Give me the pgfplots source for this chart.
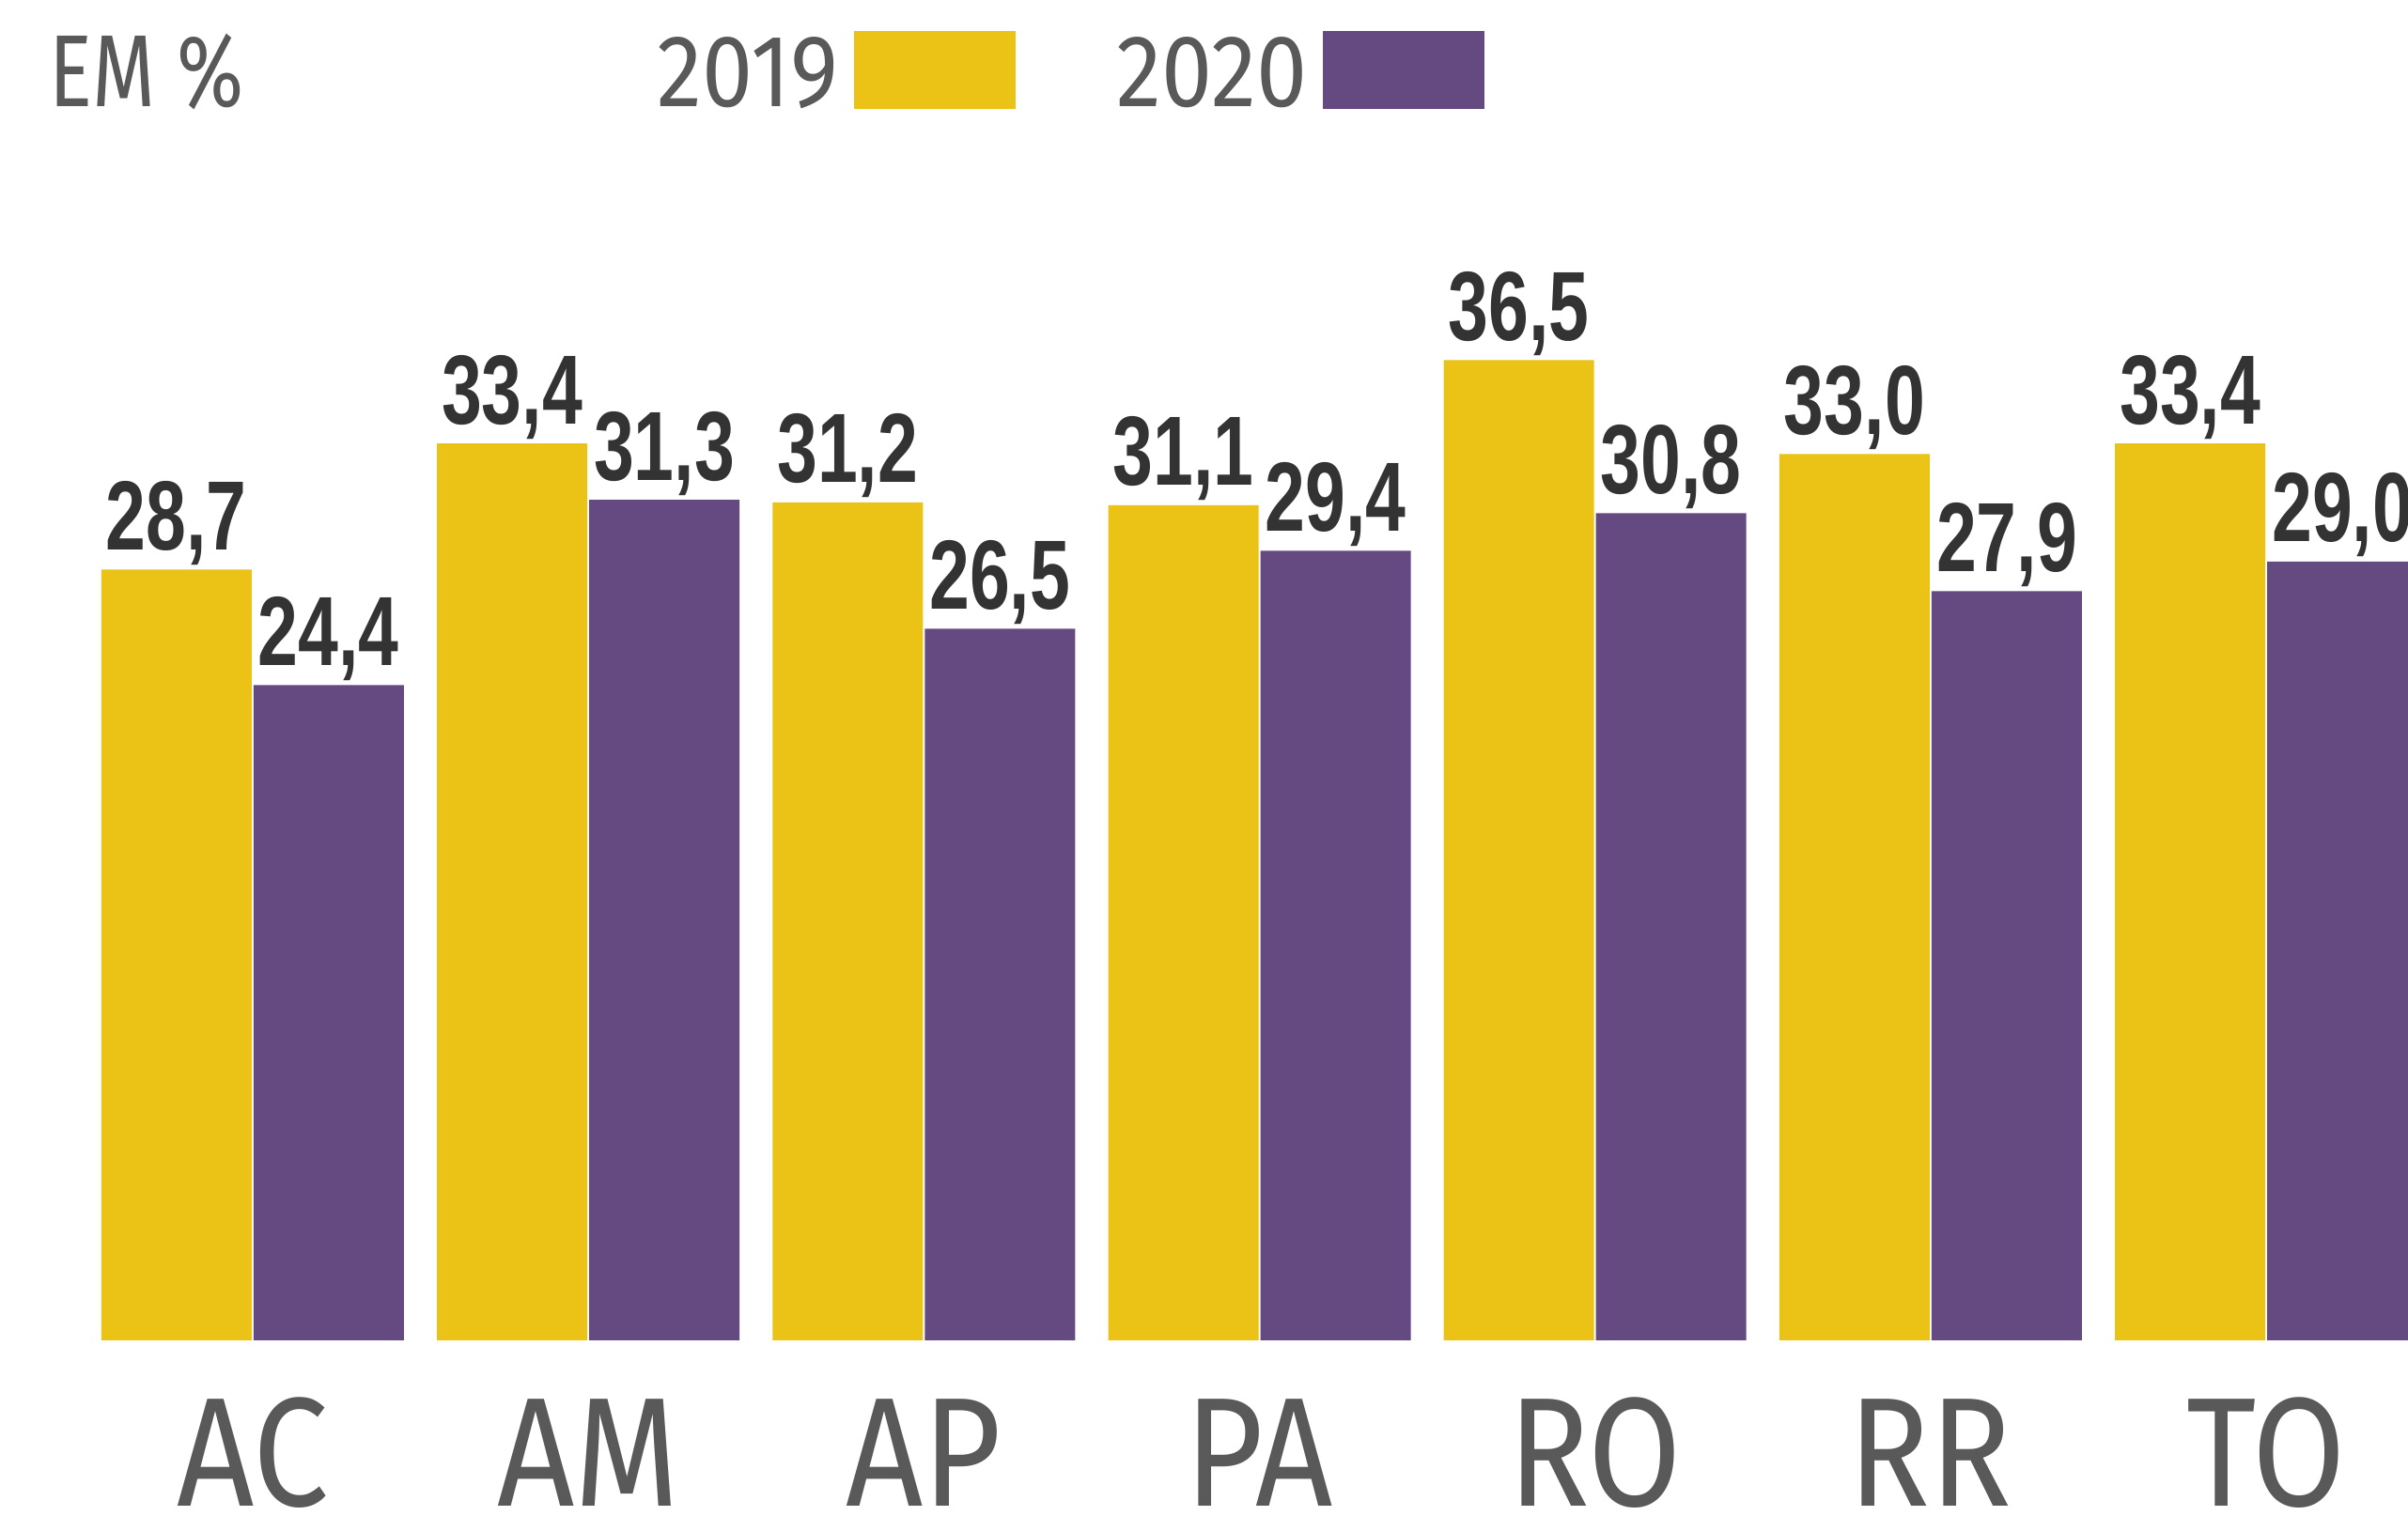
\documentclass[border=0pt]{standalone}
\usepackage{pgfplots}
\pgfplotsset{compat=1.18}
\usepackage{fontspec}
\setmainfont{Fira Sans}
\newfontfamily\valfont{Liberation Sans}[FakeStretch=0.735]
\newfontfamily\catfont{Fira Sans}[FakeStretch=0.87]
\newfontfamily\legfont{Fira Sans}[FakeStretch=0.89]
\newfontfamily\emfont{Fira Sans}[FakeStretch=0.79]
\definecolor{yel}{HTML}{EBC216}
\definecolor{pur}{HTML}{654A82}
\definecolor{txtgrey}{HTML}{595959}
\definecolor{valtxt}{HTML}{333333}
\begin{document}
\begin{tikzpicture}
\useasboundingbox (0,0) rectangle (25.63cm,16.14cm);
\clip (0,0) rectangle (25.63cm,16.14cm);
\begin{axis}[
 at={(0cm,1.87cm)}, anchor=south west,
 scale only axis, width=25.63cm, height=14.27cm,
 xmin=-0.7528, xmax=6.4225, ymin=0, ymax=49.91,
 clip=false,
 ybar=0.02cm, bar width=1.60cm,
 axis line style={draw=none},
 major tick length=0pt,
 ytick=\empty,
 xtick={0,...,6},
 xticklabels={AC,AM,AP,PA,RO,RR,TO},
 xticklabel style={font=\catfont\fontsize{47pt}{48pt}\selectfont, text=txtgrey, anchor=base, inner sep=0pt, yshift=-1.77cm},
 /pgf/number format/assume math mode=true,
 nodes near coords={\pgfmathprintnumber[fixed,fixed zerofill,precision=1,use comma]{\pgfplotspointmeta}},
 every node near coord/.append style={font=\valfont\bfseries\fontsize{29.8pt}{30pt}\selectfont, text=valtxt, anchor=base, inner sep=0pt, yshift=0.21cm},
 legend columns=2, legend plot pos=right,
 legend style={draw=none, fill=none, inner sep=0pt, outer sep=0pt,
   at={(0.2731,0.9769)}, anchor=north west,
   nodes={inner sep=0pt, anchor=base west, font=\legfont\fontsize{31pt}{31pt}\selectfont, text=txtgrey},
   /tikz/every odd column/.append style={column sep=0.16cm},
   /tikz/every even column/.append style={column sep=1.08cm}},
]
\addplot[fill=yel, draw=none, legend image code/.code={\fill[yel] (0cm,-0.02cm) rectangle (1.72cm,0.81cm);}]
 coordinates {(0,28.7) (1,33.4) (2,31.2) (3,31.1) (4,36.5) (5,33.0) (6,33.4)};
\addlegendentry{2019}
\addplot[fill=pur, draw=none, legend image code/.code={\fill[pur] (0cm,-0.02cm) rectangle (1.72cm,0.81cm);}]
 coordinates {(0,24.4) (1,31.3) (2,26.5) (3,29.4) (4,30.8) (5,27.9) (6,29.0)};
\addlegendentry{2020}
\node[anchor=base west, inner sep=0pt, font=\emfont\fontsize{31pt}{31pt}\selectfont, text=txtgrey] at (axis description cs:0.0203,0.9201) {EM \%};
\end{axis}
\end{tikzpicture}
\end{document}
